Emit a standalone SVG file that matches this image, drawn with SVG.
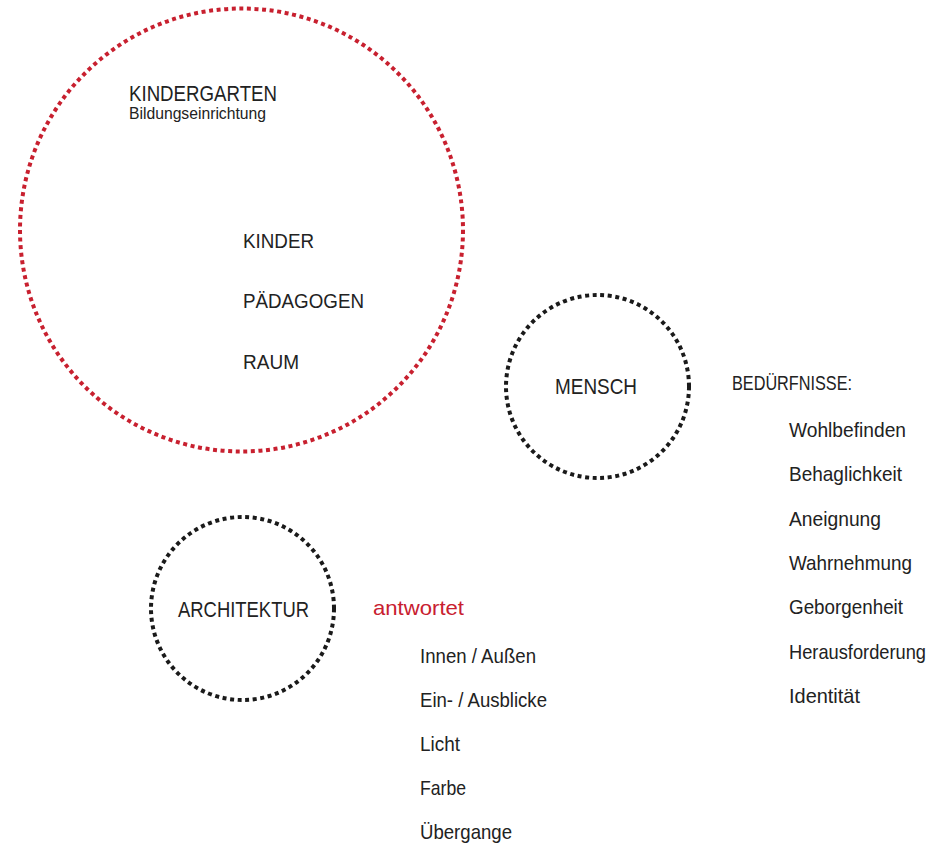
<svg xmlns="http://www.w3.org/2000/svg" width="934" height="846" viewBox="0 0 934 846">
<style>
.c{fill:none;stroke-width:4;stroke-dasharray:4 3.6}
.red{stroke:#c8202f}
.blk{stroke:#1a1a1a}
text{font-family:"Liberation Sans Narrow","Liberation Sans",Arial,sans-serif;fill:#222;font-size:21px}
.lg{font-size:22px}
.sm{font-size:16px}
.r{fill:#c8202f}
</style>
<rect width="934" height="846" fill="#fff"/>
<g id="kindergarten">
<circle class="c red" cx="241.5" cy="230" r="221.5"/>
<text class="lg" x="129" y="101" textLength="148" lengthAdjust="spacingAndGlyphs">KINDERGARTEN</text>
<text class="sm" x="129" y="119" textLength="137" lengthAdjust="spacingAndGlyphs">Bildungseinrichtung</text>
<text x="243" y="248" textLength="71" lengthAdjust="spacingAndGlyphs">KINDER</text>
<text x="243" y="308" textLength="121" lengthAdjust="spacingAndGlyphs">PÄDAGOGEN</text>
<text x="243" y="369" textLength="56" lengthAdjust="spacingAndGlyphs">RAUM</text>
</g>
<g id="mensch">
<circle class="c blk" cx="597.5" cy="386.5" r="91.5"/>
<text class="lg" x="555" y="394" textLength="82" lengthAdjust="spacingAndGlyphs">MENSCH</text>
</g>
<g id="beduerfnisse">
<text x="732" y="390" textLength="120" lengthAdjust="spacingAndGlyphs">BEDÜRFNISSE:</text>
<text x="789" y="437" textLength="117" lengthAdjust="spacingAndGlyphs">Wohlbefinden</text>
<text x="789" y="481" textLength="113" lengthAdjust="spacingAndGlyphs">Behaglichkeit</text>
<text x="789" y="526" textLength="92" lengthAdjust="spacingAndGlyphs">Aneignung</text>
<text x="789" y="570" textLength="123" lengthAdjust="spacingAndGlyphs">Wahrnehmung</text>
<text x="789" y="614" textLength="114" lengthAdjust="spacingAndGlyphs">Geborgenheit</text>
<text x="789" y="659" textLength="137" lengthAdjust="spacingAndGlyphs">Herausforderung</text>
<text x="789" y="703" textLength="71" lengthAdjust="spacingAndGlyphs">Identität</text>
</g>
<g id="architektur">
<circle class="c blk" cx="242.5" cy="608.5" r="91.5"/>
<text class="lg" x="178" y="617" textLength="131" lengthAdjust="spacingAndGlyphs">ARCHITEKTUR</text>
</g>
<g id="antwortet">
<text class="r" x="373" y="615" textLength="91" lengthAdjust="spacingAndGlyphs">antwortet</text>
<text x="420" y="663" textLength="116" lengthAdjust="spacingAndGlyphs">Innen / Außen</text>
<text x="420" y="707" textLength="127" lengthAdjust="spacingAndGlyphs">Ein- / Ausblicke</text>
<text x="420" y="751" textLength="40" lengthAdjust="spacingAndGlyphs">Licht</text>
<text x="420" y="795" textLength="46" lengthAdjust="spacingAndGlyphs">Farbe</text>
<text x="420" y="839" textLength="92" lengthAdjust="spacingAndGlyphs">Übergange</text>
</g>
<g id="connectors"/>
</svg>
